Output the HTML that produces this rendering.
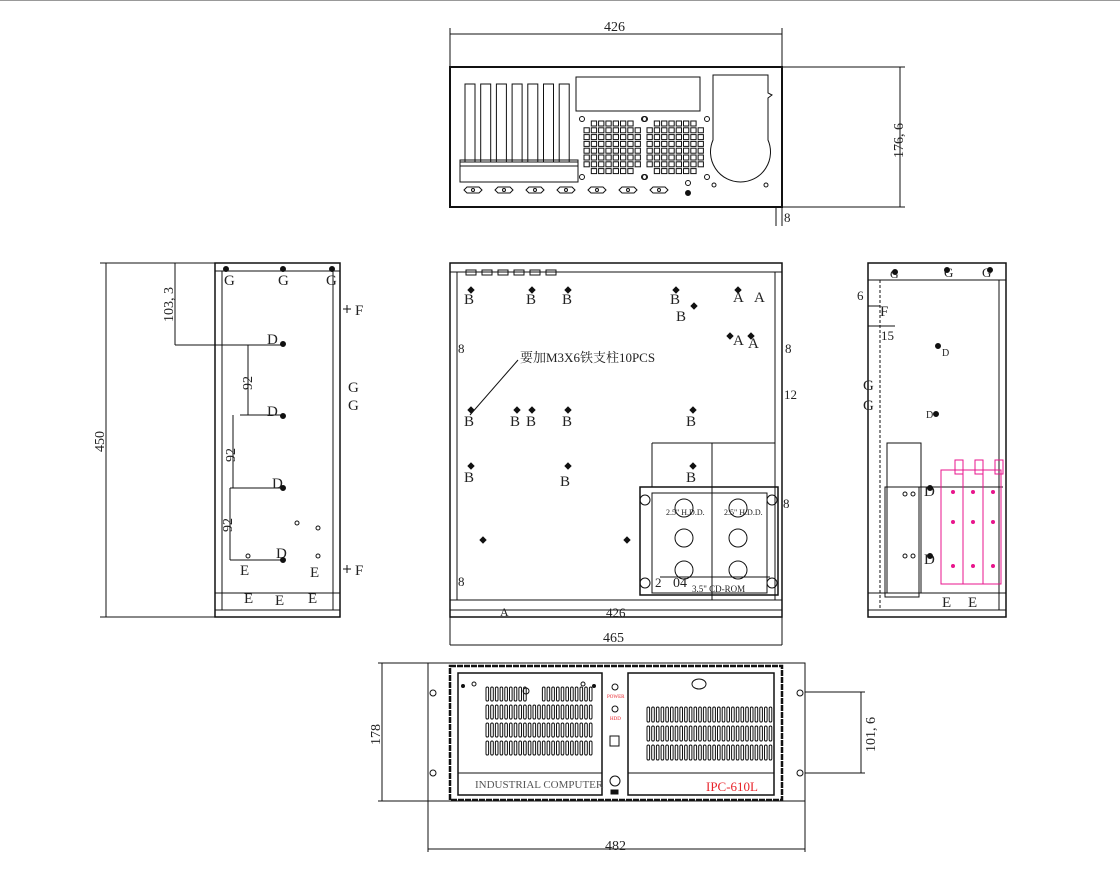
<!DOCTYPE html>
<html><head><meta charset="utf-8"><style>
html,body{margin:0;padding:0;background:#fff}
svg{display:block}
text{font-family:"Liberation Serif","Noto Serif CJK SC",serif;fill:#222}
text.red{fill:#e8232a}
text.grey{fill:#555}
</style></head><body>
<svg id="s" width="1120" height="891" viewBox="0 0 1120 891" xmlns="http://www.w3.org/2000/svg" stroke="#111" fill="none" stroke-width="1">
<line x1="0" y1="0.5" x2="1120" y2="0.5" stroke="#999"/>

<g>
<line x1="450" y1="28" x2="450" y2="67"/><line x1="782" y1="28" x2="782" y2="67"/>
<line x1="450" y1="34" x2="782" y2="34"/>
<text x="604" y="31" font-size="14" stroke="none">426</text>
<rect x="450" y="67" width="332" height="140" stroke-width="2"/>
<line x1="782" y1="67" x2="905" y2="67"/><line x1="782" y1="207" x2="905" y2="207"/>
<line x1="900" y1="67" x2="900" y2="207"/>
<text x="0" y="0" font-size="14" stroke="none" transform="translate(903,158) rotate(-90)">176, 6</text>
<line x1="776" y1="207" x2="776" y2="226"/><line x1="782" y1="207" x2="782" y2="226"/>
<text x="784" y="222" font-size="13" stroke="none">8</text>
<rect x="576" y="77" width="124" height="34"/>
<path d="M713,75 L768,75 L768,93 L772,95 L768,98 L768,140 A30,30 0 1 1 713,140 Z"/>
<rect x="460" y="162" width="118" height="20"/>
<rect x="460" y="160" width="118" height="6"/>
</g>

<rect x="215" y="263" width="125" height="354" stroke-width="1.5"/>
<line x1="215" y1="271" x2="340" y2="271"/>
<line x1="222" y1="271" x2="222" y2="610"/>
<line x1="333" y1="271" x2="333" y2="610"/>
<line x1="215" y1="593" x2="340" y2="593"/>
<line x1="215" y1="610" x2="340" y2="610"/>
<line x1="340" y1="271" x2="340" y2="610" stroke-dasharray="3,2"/>
<line x1="100" y1="263" x2="215" y2="263"/><line x1="100" y1="617" x2="215" y2="617"/>
<line x1="106" y1="263" x2="106" y2="617"/>
<text font-size="14" stroke="none" transform="translate(104,452) rotate(-90)">450</text>
<line x1="175" y1="263" x2="175" y2="345"/>
<line x1="175" y1="345" x2="282" y2="345"/>
<text font-size="14" stroke="none" transform="translate(173,322) rotate(-90)">103, 3</text>
<line x1="248" y1="345" x2="248" y2="415"/><line x1="240" y1="415" x2="282" y2="415"/>
<text font-size="14" stroke="none" transform="translate(252,390) rotate(-90)">92</text>
<line x1="233" y1="415" x2="233" y2="488"/><line x1="230" y1="488" x2="282" y2="488"/>
<text font-size="14" stroke="none" transform="translate(235,462) rotate(-90)">92</text>
<line x1="230" y1="488" x2="230" y2="560"/><line x1="230" y1="560" x2="282" y2="560"/>
<text font-size="14" stroke="none" transform="translate(232,532) rotate(-90)">92</text>
<g font-size="15" stroke="none">
<text x="224" y="285" stroke="none">G</text><text x="278" y="285" stroke="none">G</text><text x="326" y="285" stroke="none">G</text>
<text x="267" y="344" stroke="none">D</text><text x="267" y="416" stroke="none">D</text><text x="272" y="488" stroke="none">D</text><text x="276" y="558" stroke="none">D</text>
<text x="355" y="315" stroke="none">F</text><text x="355" y="575" stroke="none">F</text>
<text x="348" y="392" stroke="none">G</text><text x="348" y="410" stroke="none">G</text>
<text x="240" y="575" stroke="none">E</text><text x="310" y="577" stroke="none">E</text>
<text x="244" y="603" stroke="none">E</text><text x="275" y="605" stroke="none">E</text><text x="308" y="603" stroke="none">E</text>
</g>
<line x1="343" y1="309" x2="351" y2="309"/><line x1="347" y1="305" x2="347" y2="313"/>
<line x1="343" y1="569" x2="351" y2="569"/><line x1="347" y1="565" x2="347" y2="573"/>

<rect x="450" y="263" width="332" height="354" stroke-width="1.5"/>
<line x1="450" y1="272" x2="782" y2="272"/>
<line x1="457" y1="272" x2="457" y2="600"/>
<line x1="775" y1="272" x2="775" y2="600"/>
<line x1="450" y1="600" x2="782" y2="600"/>
<line x1="450" y1="610" x2="782" y2="610"/>
<line x1="652" y1="443" x2="775" y2="443"/><line x1="652" y1="443" x2="652" y2="487"/><line x1="712" y1="443" x2="712" y2="600"/>
<rect x="640" y="487" width="138" height="108" stroke-width="1.5"/>
<rect x="652" y="493" width="115" height="100"/>
<line x1="660" y1="577" x2="770" y2="577"/>
<line x1="470" y1="415" x2="518" y2="360"/>
<text x="520" y="362" font-size="13" stroke="none">要加M3X6铁支柱10PCS</text>
<g font-size="15" stroke="none">
<text x="464" y="304" stroke="none">B</text><text x="526" y="304" stroke="none">B</text><text x="562" y="304" stroke="none">B</text><text x="670" y="304" stroke="none">B</text><text x="676" y="321" stroke="none">B</text>
<text x="733" y="302" stroke="none">A</text><text x="754" y="302" stroke="none">A</text><text x="733" y="345" stroke="none">A</text><text x="748" y="348" stroke="none">A</text>
<text x="464" y="426" stroke="none">B</text><text x="510" y="426" stroke="none">B</text><text x="526" y="426" stroke="none">B</text><text x="562" y="426" stroke="none">B</text><text x="686" y="426" stroke="none">B</text>
<text x="464" y="482" stroke="none">B</text><text x="560" y="486" stroke="none">B</text><text x="686" y="482" stroke="none">B</text>
<text x="458" y="353" stroke="none" font-size="13">8</text><text x="785" y="353" stroke="none" font-size="13">8</text>
<text x="784" y="399" stroke="none" font-size="13">12</text><text x="783" y="508" stroke="none" font-size="13">8</text>
<text x="458" y="586" stroke="none" font-size="13">8</text>
<text x="500" y="616" stroke="none" font-size="12">A</text><text x="606" y="617" stroke="none" font-size="13">426</text>
<text x="655" y="587" stroke="none" font-size="13">2</text><text x="673" y="587" stroke="none" font-size="14">04</text>
<text x="692" y="592" stroke="none" font-size="9">3.5" CD-ROM</text>
<text x="666" y="515" stroke="none" font-size="8">2.5" H.D.D.</text><text x="724" y="515" stroke="none" font-size="8">2.5" H.D.D.</text>
</g>
<line x1="450" y1="617" x2="450" y2="645"/><line x1="782" y1="617" x2="782" y2="645"/>

<rect x="868" y="263" width="138" height="354" stroke-width="1.5"/>
<line x1="868" y1="280" x2="1006" y2="280"/>
<line x1="880" y1="280" x2="880" y2="610" stroke-dasharray="3,2"/>
<line x1="999" y1="280" x2="999" y2="610"/>
<line x1="868" y1="593" x2="1006" y2="593"/>
<line x1="868" y1="610" x2="1006" y2="610"/>
<rect x="887" y="443" width="34" height="150"/>
<rect x="885" y="487" width="34" height="110"/>
<line x1="887" y1="487" x2="1003" y2="487"/>
<g stroke="#e8158c"><rect x="941" y="470" width="22" height="114"/><rect x="963" y="470" width="20" height="114"/><rect x="983" y="470" width="18" height="114"/>
<rect x="955" y="460" width="8" height="14"/><rect x="975" y="460" width="8" height="14"/><rect x="995" y="460" width="8" height="14"/></g>
<g font-size="15" stroke="none">
<text x="890" y="278" stroke="none" font-size="12">G</text><text x="944" y="277" stroke="none" font-size="13">G</text><text x="982" y="277" stroke="none" font-size="13">G</text>
<text x="857" y="300" stroke="none" font-size="13">6</text><text x="880" y="316" stroke="none">F</text>
<text x="881" y="340" stroke="none" font-size="13">15</text>
<text x="863" y="390" stroke="none">G</text><text x="863" y="410" stroke="none">G</text>
<text x="942" y="356" stroke="none" font-size="10">D</text><text x="926" y="418" stroke="none" font-size="10">D</text>
<text x="924" y="496" stroke="none">D</text><text x="924" y="564" stroke="none">D</text>
<text x="942" y="607" stroke="none">E</text><text x="968" y="607" stroke="none">E</text>
</g>
<line x1="868" y1="306" x2="880" y2="306"/>
<line x1="868" y1="326" x2="895" y2="326"/>

<line x1="450" y1="645" x2="782" y2="645"/>
<text x="603" y="642" font-size="14" stroke="none">465</text>
<rect x="428" y="663" width="377" height="138" stroke-width="1"/>
<rect x="450" y="666" width="332" height="134" stroke-width="2.5" stroke-dasharray="6,1"/>
<rect x="458" y="673" width="144" height="122" stroke-width="1.5"/>
<line x1="458" y1="773" x2="602" y2="773"/>
<text x="475" y="788" font-size="11" stroke="none" class="grey">INDUSTRIAL COMPUTER</text>
<rect x="628" y="673" width="146" height="122" stroke-width="1.5"/>
<line x1="628" y1="773" x2="774" y2="773"/>
<text x="706" y="791" font-size="13" stroke="none" class="red">IPC-610L</text>
<ellipse cx="699" cy="684" rx="7" ry="5"/>
<circle cx="615" cy="687" r="3"/><text x="607" y="698" font-size="5" class="red" stroke="none">POWER</text>
<circle cx="615" cy="709" r="3"/><text x="610" y="720" font-size="5" class="red" stroke="none">HDD</text>
<rect x="610" y="736" width="9" height="10"/>
<circle cx="615" cy="781" r="5"/><rect x="611" y="790" width="7" height="4" fill="#111"/>
<line x1="378" y1="663" x2="428" y2="663"/><line x1="378" y1="801" x2="428" y2="801"/>
<line x1="382" y1="663" x2="382" y2="801"/>
<text font-size="14" stroke="none" transform="translate(380,745) rotate(-90)">178</text>
<line x1="805" y1="692" x2="865" y2="692"/><line x1="805" y1="773" x2="865" y2="773"/>
<line x1="861" y1="692" x2="861" y2="773"/>
<text font-size="14" stroke="none" transform="translate(875,752) rotate(-90)">101, 6</text>
<line x1="428" y1="801" x2="428" y2="852"/><line x1="805" y1="801" x2="805" y2="852"/>
<line x1="428" y1="849" x2="805" y2="849"/>
<text x="605" y="850" font-size="14" stroke="none">482</text>
<g id="gen"></g>
</svg>
<script>
var g=document.getElementById('gen'),s='';
function R(x,y,w,h,a){s+='<rect x="'+x+'" y="'+y+'" width="'+w+'" height="'+h+'" '+(a||'')+'/>';}
function C(x,y,r,f){s+='<circle cx="'+x+'" cy="'+y+'" r="'+r+'" '+(f?'fill="#111"':'')+'/>';}
for(var i=0;i<7;i++)R(465+i*15.7,84,10,78);
[[584,121],[647,121]].forEach(function(p){for(var r=0;r<8;r++)for(var c=0;c<8;c++){if((r==0||r==7)&&(c==0||c==7))continue;R(p[0]+c*7.3,p[1]+r*6.8,5.3,5);}
C(p[0]-2,p[1]-2,2.5);C(p[0]+60,p[1]-2,2.5);C(p[0]-2,p[1]+56,2.5);C(p[0]+60,p[1]+56,2.5);});
for(var i=0;i<7;i++){var x=473+i*31;s+='<path d="M'+(x-9)+','+190+' l3,-3 h12 l3,3 l-3,3 h-12 z"/>';C(x,190,1.5);}
C(688,183,2.5);C(688,193,2.5,1);C(714,185,2);C(766,185,2);
[[226,269],[283,269],[332,269],[283,344],[283,416],[283,488],[283,560]].forEach(function(p){C(p[0],p[1],2.5,1)});
[[297,523],[318,528],[248,556],[318,556]].forEach(function(p){C(p[0],p[1],2)});
[[471,290],[532,290],[568,290],[676,290],[694,306],[738,290],[730,336],[751,336],[471,410],[517,410],[532,410],[568,410],[693,410],[471,466],[568,466],[693,466],[483,540],[627,540]].forEach(function(p){s+='<path d="M'+p[0]+','+(p[1]-3)+' l3,3 l-3,3 l-3,-3z" fill="#111"/>';});
for(var i=0;i<6;i++)R(466+i*16,270,10,5);
[[684,508],[738,508],[684,538],[738,538],[684,570],[738,570]].forEach(function(p){C(p[0],p[1],9)});
C(645,500,5);C(772,500,5);C(645,583,5);C(772,583,5);
[[895,272],[947,270],[990,270],[938,346],[936,414],[930,488],[930,556]].forEach(function(p){C(p[0],p[1],2.5,1)});
[[978,492],[978,522],[978,566],[998,492],[998,522],[958,492],[958,522],[958,566],[998,566]].forEach(function(p){s+='<circle cx="'+(p[0]-5)+'" cy="'+p[1]+'" r="2" fill="#e8158c" stroke="none"/>';});
C(905,494,2);C(913,494,2);C(905,556,2);C(913,556,2);
for(var r=0;r<4;r++)for(var c=0;c<23;c++){if(r==0&&c>=9&&c<=11)continue;R(486+c*4.7,687+r*18,2.6,14,'rx="1.3"');}
for(var r=0;r<3;r++)for(var c=0;c<27;c++)R(647+c*4.7,707+r*19,2.6,15,'rx="1.3"');
C(433,693,3);C(433,773,3);C(800,693,3);C(800,773,3);C(526,691,3);C(463,686,1.5,1);C(594,686,1.5,1);C(474,684,2);C(583,684,2);
g.innerHTML=s;
</script>
</body></html>
